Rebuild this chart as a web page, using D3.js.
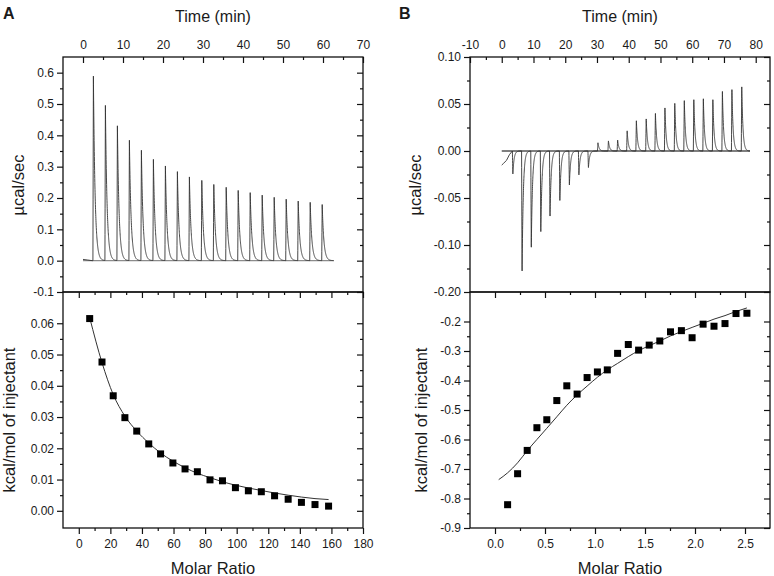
<!DOCTYPE html>
<html>
<head>
<meta charset="utf-8">
<script src="https://cdnjs.cloudflare.com/ajax/libs/d3/7.8.5/d3.min.js"></script>
<style>
  body { margin: 0; background: #fff; }
  svg { display: block; }
  text { font-family: "Liberation Sans", Arial, sans-serif; fill: #1a1a1a; }
</style>
</head>
<body>
<div id="chart"></div>
<script>
// ---- panel A: raw thermogram (injection times in min, peak heights in µcal/sec)
const injTimeA = [2.6, 5.6, 8.6, 11.6, 14.6, 17.6, 20.6, 23.6, 26.6, 29.7, 32.7, 35.8, 38.8, 41.8, 44.8, 47.8, 50.8, 53.8, 56.8, 59.8];
const peakA = [0.589, 0.495, 0.430, 0.384, 0.352, 0.323, 0.302, 0.284, 0.267, 0.256, 0.243, 0.234, 0.224, 0.217, 0.209, 0.202, 0.196, 0.190, 0.186, 0.179];
const preA = [[0, 0.004], [1.2, 0.002], [2.3, 0.0]];
const traceEndA = 62.7;

// ---- panel A: integrated heats
const molarA = [6.9, 14.7, 21.8, 29.2, 36.7, 44.3, 51.8, 59.6, 67.3, 75.1, 83.1, 91.0, 99.2, 107.4, 115.6, 124.0, 132.6, 141.0, 149.6, 158.2];
const heatA = [0.0615, 0.0476, 0.0368, 0.0298, 0.0255, 0.0214, 0.0182, 0.0153, 0.0134, 0.0125, 0.0099, 0.0096, 0.0074, 0.0064, 0.0061, 0.0048, 0.0037, 0.0027, 0.0020, 0.0015];
const fitA = [0.0618, 0.0474, 0.0372, 0.0303, 0.0255, 0.0217, 0.0185, 0.0159, 0.0138, 0.0120, 0.0106, 0.0093, 0.0082, 0.0073, 0.0065, 0.0057, 0.0050, 0.0044, 0.0039, 0.0036];

// ---- panel B: raw thermogram
const injTimeB = [3.5, 6.4, 9.3, 12.3, 15.2, 18.3, 21.3, 24.3, 27.3, 30.3, 33.6, 36.5, 39.5, 42.4, 45.5, 48.4, 51.4, 54.5, 57.5, 60.5, 63.5, 66.5, 69.5, 72.5, 75.6];
const peakB = [-0.025, -0.131, -0.105, -0.088, -0.071, -0.054, -0.037, -0.026, -0.018, 0.009, 0.011, 0.012, 0.022, 0.033, 0.035, 0.041, 0.047, 0.052, 0.055, 0.056, 0.057, 0.056, 0.065, 0.067, 0.070];
const preB = [[0, -0.015], [0.6, -0.013], [1.5, -0.010], [2.4, -0.004], [3.1, -0.001]];
const traceEndB = 78.2;

// ---- panel B: integrated heats
const molarB = [0.126, 0.226, 0.322, 0.419, 0.518, 0.618, 0.718, 0.821, 0.921, 1.024, 1.123, 1.226, 1.333, 1.436, 1.542, 1.648, 1.755, 1.864, 1.971, 2.081, 2.190, 2.300, 2.410, 2.519];
const heatB = [-0.821, -0.716, -0.637, -0.560, -0.533, -0.468, -0.418, -0.446, -0.390, -0.371, -0.364, -0.308, -0.278, -0.297, -0.280, -0.266, -0.235, -0.231, -0.255, -0.209, -0.216, -0.207, -0.173, -0.172];
const fitMolarB = [0.037, 0.126, 0.226, 0.322, 0.419, 0.518, 0.618, 0.718, 0.821, 0.921, 1.024, 1.123, 1.226, 1.333, 1.436, 1.542, 1.648, 1.755, 1.864, 1.971, 2.081, 2.190, 2.300, 2.410, 2.519];
const fitB = [-0.736, -0.713, -0.679, -0.638, -0.600, -0.562, -0.523, -0.484, -0.449, -0.419, -0.389, -0.364, -0.342, -0.319, -0.299, -0.282, -0.266, -0.249, -0.234, -0.220, -0.206, -0.192, -0.180, -0.166, -0.154];

// ---- tick values / labels
const timeTicksA = [0, 10, 20, 30, 40, 50, 60, 70];
const rawTicksA = [-0.1, 0, 0.1, 0.2, 0.3, 0.4, 0.5, 0.6];
const molarTicksA = [0, 20, 40, 60, 80, 100, 120, 140, 160, 180];
const heatTicksA = [0, 0.01, 0.02, 0.03, 0.04, 0.05, 0.06];
const timeTicksB = [-10, 0, 10, 20, 30, 40, 50, 60, 70, 80];
const rawTicksB = [0.10, 0.05, 0, -0.05, -0.10, -0.15];
const rawTickLabelsB = ["0.10", "0.05", "0.00", "-0.05", "-0.10", "-0.20"];
const molarTicksB = [0, 0.5, 1.0, 1.5, 2.0, 2.5];
const heatTicksB = [-0.9, -0.8, -0.7, -0.6, -0.5, -0.4, -0.3, -0.2];

const W = 774, H = 576;
const svg = d3.select('#chart').append('svg').attr('width', W).attr('height', H);

const topY = [292, 57], botY = [528, 292];
const xTimeA = d3.scaleLinear([-5, 70], [63, 363]);
const yRawA = d3.scaleLinear([-0.1, 0.65], topY);
const xMolA = d3.scaleLinear([-10, 180], [63, 363]);
const yHeatA = d3.scaleLinear([-0.0055, 0.07], botY);
const xTimeB = d3.scaleLinear([-10, 84.5], [470, 770]);
const yRawB = d3.scaleLinear([-0.15, 0.10], topY);
const xMolB = d3.scaleLinear([-0.25, 2.75], [470, 770]);
const yHeatB = d3.scaleLinear([-0.9, -0.1], botY);

// minor ticks = midpoints between majors
const mids = t => t.slice(1).map((v, i) => (v + t[i]) / 2);

function drawAxis(gen, scale, major, minor, fmt, len, pad, tr) {
  const gm = svg.append('g').attr('transform', tr)
    .call(gen(scale).tickValues(minor).tickSize(len / 2).tickSizeOuter(0).tickFormat(() => ''));
  const gM = svg.append('g').attr('transform', tr)
    .call(gen(scale).tickValues(major).tickSize(len).tickSizeOuter(0).tickPadding(pad).tickFormat(fmt || (() => '')));
  [gm, gM].forEach(g => {
    g.select('.domain').remove();
    g.selectAll('line').attr('stroke', '#111').attr('stroke-width', 1.2);
    g.selectAll('text').attr('font-size', 12).attr('font-family', '"Liberation Sans", Arial, sans-serif').attr('fill', '#1a1a1a');
  });
}

function traceData(times, peaks, pre, tEnd, rise, tau) {
  const pts = pre.slice();
  const t0 = times[0] - rise;
  for (let t = t0; t <= tEnd; t += 0.02) {
    let y = 0;
    times.forEach((ti, i) => {
      const dt = t - ti;
      if (dt > -rise && dt < 0) y += peaks[i] * (dt + rise) / rise;
      else if (dt >= 0) y += peaks[i] * Math.exp(-dt / tau);
    });
    pts.push([t, y]);
  }
  return pts;
}

function panel(o) {
  // baseline
  svg.append('line')
    .attr('x1', o.xT(0)).attr('x2', o.xT(o.tEnd)).attr('y1', o.yR(0)).attr('y2', o.yR(0))
    .attr('stroke', o.baseColor).attr('stroke-width', 1.3);
  // raw trace
  svg.append('path').datum(traceData(o.times, o.peaks, o.pre, o.tEnd, o.rise, o.tau))
    .attr('fill', 'none').attr('stroke', '#333').attr('stroke-width', 0.9)
    .attr('d', d3.line().x(d => o.xT(d[0])).y(d => o.yR(d[1])));
  // fit line
  svg.append('path').datum(o.fitX.map((x, i) => [x, o.fitY[i]]))
    .attr('fill', 'none').attr('stroke', '#333').attr('stroke-width', 1)
    .attr('d', d3.line().curve(d3.curveMonotoneX).x(d => o.xM(d[0])).y(d => o.yH(d[1])));
  // points
  svg.append('g').selectAll('rect').data(o.mx.map((x, i) => [x, o.my[i]])).join('rect')
    .attr('x', d => o.xM(d[0]) - 3.5).attr('y', d => o.yH(d[1]) - 3.5)
    .attr('width', 7).attr('height', 7).attr('fill', '#000');

  const [l, r] = o.xT.range();
  // axes
  drawAxis(d3.axisTop, o.xT, o.tTicks, mids(o.tTicks), d => d, -6, 8, 'translate(0,57)');
  drawAxis(d3.axisLeft, o.yR, o.rTicks, mids(o.rTicks), o.rFmt, 6, 3, `translate(${l},0)`);
  drawAxis(d3.axisRight, o.yR, o.rTicks, mids(o.rTicks), null, -6, 3, `translate(${r},0)`);
  drawAxis(d3.axisBottom, o.xM, o.mTicks, mids(o.mTicks), null, 6, 3, 'translate(0,292)');
  drawAxis(d3.axisBottom, o.xM, o.mTicks, mids(o.mTicks), o.mFmt, 6, 5, 'translate(0,528)');
  drawAxis(d3.axisLeft, o.yH, o.hTicks, mids(o.hTicks), o.hFmt, 6, 3, `translate(${l},0)`);
  drawAxis(d3.axisRight, o.yH, o.hTicks, mids(o.hTicks), null, -6, 3, `translate(${r},0)`);

  // frames
  [[57, 292], [292, 528]].forEach(([y0, y1]) => {
    svg.append('rect').attr('x', l).attr('y', y0).attr('width', r - l).attr('height', y1 - y0)
      .attr('fill', 'none').attr('stroke', '#111').attr('stroke-width', 1.3);
  });

  // titles
  const cx = (l + r) / 2;
  svg.append('text').attr('x', o.letterX).attr('y', 18.5).attr('font-size', 16).attr('font-weight', 'bold').text(o.letter);
  svg.append('text').attr('x', cx).attr('y', 22).attr('font-size', 16).attr('text-anchor', 'middle').text('Time (min)');
  svg.append('text').attr('x', cx).attr('y', 574).attr('font-size', 16.5).attr('text-anchor', 'middle').text('Molar Ratio');
  svg.append('text').attr('transform', `translate(${o.yT1},185) rotate(-90)`).attr('font-size', 16.5)
    .attr('text-anchor', 'middle').text('µcal/sec');
  svg.append('text').attr('transform', `translate(${o.yT2},420) rotate(-90)`).attr('font-size', 16.5)
    .attr('text-anchor', 'middle').text('kcal/mol of injectant');
}

panel({
  letter: 'A', letterX: 3, yT1: 24, yT2: 15,
  xT: xTimeA, yR: yRawA, xM: xMolA, yH: yHeatA,
  times: injTimeA, peaks: peakA, pre: preA, tEnd: traceEndA, rise: 0.12, tau: 0.42, baseColor: '#8c8c8c',
  fitX: molarA, fitY: fitA, mx: molarA, my: heatA,
  tTicks: timeTicksA, rTicks: rawTicksA, rFmt: d => d.toFixed(1),
  mTicks: molarTicksA, mFmt: d => d, hTicks: heatTicksA, hFmt: d => d.toFixed(2)
});

panel({
  letter: 'B', letterX: 399, yT1: 421, yT2: 427,
  xT: xTimeB, yR: yRawB, xM: xMolB, yH: yHeatB,
  times: injTimeB, peaks: peakB, pre: preB, tEnd: traceEndB, rise: 0.15, tau: 0.38, baseColor: '#555',
  fitX: fitMolarB, fitY: fitB, mx: molarB, my: heatB,
  tTicks: timeTicksB, rTicks: rawTicksB, rFmt: (d, i) => rawTickLabelsB[i],
  mTicks: molarTicksB, mFmt: d => d.toFixed(1), hTicks: heatTicksB, hFmt: d => d.toFixed(1)
});
</script>
</body>
</html>
